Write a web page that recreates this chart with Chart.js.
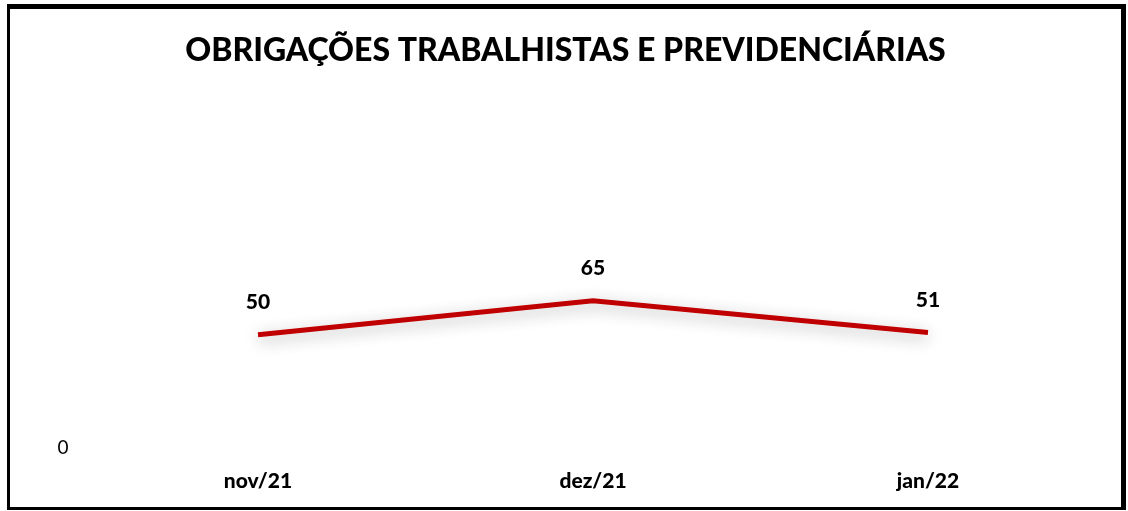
<!DOCTYPE html>
<html>
<head>
<meta charset="utf-8">
<script src="https://cdn.jsdelivr.net/npm/chart.js@4.4.0/dist/chart.umd.min.js"></script>
<style>
  html, body { margin: 0; padding: 0; background: #fff; }
  #frame {
    position: absolute; left: 7px; top: 4px;
    width: 1111px; height: 498px;
    border-left: 3px solid #000; border-top: 5px solid #000;
    border-right: 5px solid #000; border-bottom: 3px solid #000;
    background: #fff;
  }
  canvas { display: block; }
</style>
</head>
<body>
<div id="frame"><canvas id="c" width="1111" height="498"></canvas></div>
<script>
const categories = ['nov/21', 'dez/21', 'jan/22'];
const values = [50, 65, 51];
const yTickValues = [0];
const titleText = 'OBRIGAÇÕES TRABALHISTAS E PREVIDENCIÁRIAS';

const FONT = 'Lato, "Open Sans", sans-serif';

const shadowPlugin = {
  id: 'shadowLine',
  beforeDatasetsDraw(chart) {
    const ctx = chart.ctx;
    ctx.save();
    ctx.shadowColor = 'rgba(0,0,0,0.32)';
    ctx.shadowBlur = 16;
    ctx.shadowOffsetX = 0;
    ctx.shadowOffsetY = 4;
  },
  afterDatasetsDraw(chart) {
    chart.ctx.restore();
  }
};

const labelPlugin = {
  id: 'valueLabels',
  afterDatasetsDraw(chart) {
    const ctx = chart.ctx;
    const meta = chart.getDatasetMeta(0);
    ctx.save();
    ctx.font = '900 21px ' + FONT;
    ctx.fillStyle = '#000';
    ctx.textAlign = 'center';
    ctx.textBaseline = 'middle';
    meta.data.forEach((pt, i) => {
      ctx.fillText(String(chart.data.datasets[0].data[i]), pt.x, pt.y - 32);
    });
    ctx.restore();
  }
};

new Chart(document.getElementById('c'), {
  type: 'line',
  data: {
    labels: categories,
    datasets: [{
      data: values,
      borderColor: '#C00000',
      borderWidth: 5,
      pointRadius: 0,
      tension: 0,
      fill: false
    }]
  },
  options: {
    responsive: false,
    animation: false,
    layout: { padding: { left: 25.5, right: 25.5, top: 0, bottom: 0 } },
    plugins: {
      legend: { display: false },
      tooltip: { enabled: false },
      title: {
        display: true,
        text: titleText,
        color: '#000',
        font: { family: FONT, size: 32, weight: '900', lineHeight: 1.2 },
        padding: { top: 22, bottom: 16 }
      }
    },
    scales: {
      x: {
        offset: true,
        grid: { display: false, drawTicks: false },
        border: { display: false },
        ticks: { color: '#000', font: { family: FONT, size: 21, weight: '900' }, padding: 21 },
        afterFit(scale) { scale.height = 59; }
      },
      y: {
        min: 0, max: 160,
        grid: { display: false, drawTicks: false },
        border: { display: false },
        afterBuildTicks(scale) { scale.ticks = yTickValues.map(v => ({ value: v })); },
        ticks: { color: '#000', font: { family: FONT, size: 19 }, padding: 22 },
        afterFit(scale) { scale.width = 55; }
      }
    }
  },
  plugins: [shadowPlugin, labelPlugin]
});
</script>
</body>
</html>
